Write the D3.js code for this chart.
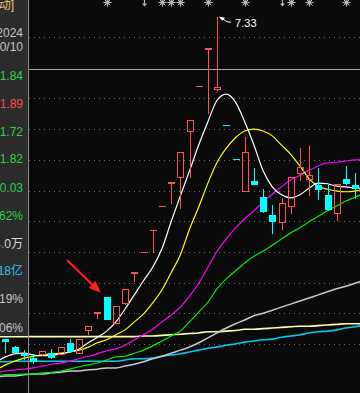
<!DOCTYPE html>
<html><head><meta charset="utf-8">
<script src="https://cdn.jsdelivr.net/npm/d3@7/dist/d3.min.js"></script>
<style>html,body{margin:0;padding:0;background:#0a0a0a;overflow:hidden}svg{display:block}</style>
</head><body><svg id="c" width="360" height="393"></svg>
<script>
// ---- data ----
const days = ["d00","d01","d02","d03","d04","d05","d06","d07","d08","d09","d10","d11","d12","d13","d14","d15","d16","d17","d18","d19","d20","d21","d22","d23","d24","d25","d26","d27","d28","d29","d30","d31","d32","d33","d34","d35","d36","d37","d38","d39","d40"];
const openP  = [1.80,2.08,1.95,1.83,1.77,1.83,1.85,1.84,2.02,1.85,2.23,2.51,2.77,2.34,2.67,3.16,3.50,3.85,4.25,4.63,4.72,5.47,6.20,6.81,6.15,5.57,5.01,4.49,4.65,4.39,4.10,3.99,4.25,4.78,4.69,4.59,4.43,4.13,4.69,4.59];
const highP  = [1.92,2.08,1.97,1.90,1.84,1.89,1.92,1.95,2.08,2.08,2.29,2.52,2.77,2.62,2.90,3.17,3.50,3.86,4.25,4.64,5.13,5.65,6.20,6.82,7.33,5.57,5.01,5.37,4.87,4.52,4.26,4.38,4.72,5.19,5.22,4.87,4.61,4.61,4.90,4.78];
const lowP   = [1.80,1.87,1.87,1.76,1.69,1.82,1.78,1.84,1.89,1.85,2.16,2.42,2.41,2.34,2.65,3.03,3.50,3.50,4.25,4.30,4.21,4.72,6.20,5.76,6.14,5.57,5.01,4.49,4.61,4.15,3.81,3.87,4.13,4.67,4.43,4.36,4.18,4.02,4.61,4.38];
const closeP = [1.92,2.05,1.87,1.82,1.72,1.89,1.79,1.95,1.89,2.08,2.29,2.52,2.41,2.62,2.90,3.17,3.50,3.86,4.25,4.64,5.13,5.65,6.20,6.82,6.19,5.57,5.01,5.13,4.61,4.17,4.00,4.30,4.72,4.88,4.75,4.52,4.20,4.61,4.62,4.54];

const ma5   = [1.71,1.79,1.84,1.85,1.82,1.81,1.82,1.84,1.87,1.92,2.02,2.11,2.21,2.36,2.57,2.80,3.03,3.25,3.55,3.99,4.41,4.82,5.24,5.62,5.97,6.07,5.94,5.62,5.24,4.82,4.56,4.43,4.38,4.43,4.54,4.62,4.61,4.57,4.56,4.54,4.54];
const ma10  = [1.58,1.66,1.72,1.77,1.80,1.82,1.84,1.85,1.87,1.90,1.95,2.02,2.07,2.15,2.23,2.36,2.49,2.67,2.88,3.16,3.45,3.87,4.23,4.62,4.96,5.19,5.36,5.47,5.50,5.47,5.39,5.24,5.09,4.90,4.69,4.57,4.52,4.49,4.48,4.49,4.52];
const ma20  = [1.53,1.56,1.58,1.59,1.61,1.64,1.67,1.69,1.72,1.76,1.80,1.84,1.89,1.92,1.98,2.07,2.15,2.24,2.36,2.47,2.60,2.78,2.99,3.25,3.51,3.71,3.89,4.04,4.17,4.31,4.44,4.56,4.67,4.75,4.83,4.90,4.95,4.96,4.98,5.00,5.00];
const ma30  = [1.48,1.50,1.50,1.51,1.51,1.53,1.54,1.56,1.59,1.63,1.66,1.69,1.74,1.79,1.80,1.85,1.90,1.97,2.05,2.13,2.21,2.36,2.52,2.68,2.90,3.06,3.19,3.32,3.43,3.51,3.61,3.71,3.81,3.89,3.99,4.08,4.17,4.25,4.33,4.39,4.46];
const ma60  = [1.46,1.48,1.48,1.50,1.51,1.51,1.53,1.54,1.56,1.56,1.58,1.59,1.61,1.61,1.64,1.67,1.71,1.76,1.80,1.85,1.90,1.95,2.02,2.10,2.18,2.26,2.33,2.39,2.46,2.50,2.55,2.60,2.65,2.70,2.75,2.80,2.85,2.90,2.94,2.99,3.04];
const ma120 = [1.71,1.71,1.72,1.72,1.72,1.72,1.72,1.72,1.72,1.72,1.72,1.72,1.72,1.72,1.74,1.76,1.76,1.77,1.80,1.82,1.84,1.87,1.90,1.93,1.95,1.98,2.00,2.03,2.05,2.07,2.08,2.11,2.13,2.15,2.18,2.20,2.21,2.23,2.26,2.28,2.31];
const ma250 = [2.12,2.12,2.12,2.12,2.12,2.12,2.12,2.12,2.12,2.12,2.12,2.12,2.12,2.12,2.12,2.12,2.13,2.13,2.14,2.15,2.16,2.17,2.18,2.20,2.20,2.21,2.22,2.24,2.24,2.25,2.26,2.27,2.28,2.29,2.29,2.30,2.31,2.32,2.33,2.33,2.33];

const gridPrices = [7.0,6.0,5.5,5.0,4.5,4.0,3.5,3.0,2.5,2.0];
const refPrice = 6.48;
const peakDay = "d24";
const peakLabel = "7.33";
const starDays = ["d12","d18","d19","d20","d23","d27","d32","d34","d38"];
const arrowDays = ["d16","d31"];
const panelText = ["动]","2024","0/10","1.84","1.89","1.72","1.82","0.03","62%","0万","18亿","19%","06%"];
const signalDay = "d12";

// ---- drawing ----
const W = 360, H = 393;
const svg = d3.select("#c");
const x = d3.scalePoint().domain(days).range([-3.7, 364.3]);
const y = d3.scaleLinear().domain([2, 7]).range([344, 37]);

const RED = "#ff5252", CYAN = "#00ffff";

svg.append("rect").attr("width", W).attr("height", H).attr("fill", "#0a0a0a");

// grid
svg.append("g").selectAll("line").data(gridPrices).join("line")
  .attr("x1", 29).attr("x2", W)
  .attr("y1", d => Math.round(y(d)) + 0.5).attr("y2", d => Math.round(y(d)) + 0.5)
  .attr("stroke", "#6a6a6a").attr("stroke-width", 1).attr("stroke-dasharray", "1,4");
svg.append("line").attr("x1", 29).attr("x2", W)
  .attr("y1", Math.round(y(refPrice)) + 0.5).attr("y2", Math.round(y(refPrice)) + 0.5)
  .attr("stroke", "#a8a8a8").attr("stroke-width", 1);

// moving averages
const maSeries = [
  {v: ma250, c: "#ffffa8", w: 1.6},
  {v: ma120, c: "#00c8f0", w: 1.6},
  {v: ma60,  c: "#c8c8c8", w: 1.5},
  {v: ma30,  c: "#00ee00", w: 1.2},
  {v: ma20,  c: "#ff00ff", w: 1.2},
  {v: ma10,  c: "#ffff00", w: 1.2},
  {v: ma5,   c: "#ffffff", w: 1.2}
];
const line = d3.line().x((d, i) => x(days[i])).y(d => y(d)).curve(d3.curveMonotoneX);
svg.append("g").selectAll("path").data(maSeries).join("path")
  .attr("d", d => line(d.v)).attr("fill", "none")
  .attr("stroke", d => d.c).attr("stroke-width", d => d.w);

// candles
const cg = svg.append("g").attr("shape-rendering", "crispEdges");
openP.forEach((o, i) => {
  const c = closeP[i], h = highP[i], l = lowP[i];
  const prev = i > 0 ? closeP[i - 1] : o;
  const up = c > o || (c === o && c >= prev);
  const col = up ? RED : CYAN;
  const rx = Math.round(x(days[i]));
  const yTop = Math.round(y(Math.max(o, c))), yBot = Math.round(y(Math.min(o, c)));
  const yH = Math.round(y(h)), yL = Math.round(y(l));
  if (yH < yTop) cg.append("rect").attr("x", rx).attr("y", yH).attr("width", 1).attr("height", yTop - yH).attr("fill", col);
  if (yL > yBot) cg.append("rect").attr("x", rx).attr("y", yBot + 1).attr("width", 1).attr("height", yL - yBot).attr("fill", col);
  if (up && yBot - yTop >= 2) {
    cg.append("rect").attr("x", rx - 2.5).attr("y", yTop + 0.5).attr("width", 6).attr("height", yBot - yTop)
      .attr("fill", "none").attr("stroke", col).attr("stroke-width", 1);
  } else {
    cg.append("rect").attr("x", rx - 3).attr("y", yTop).attr("width", 7).attr("height", Math.max(1, yBot - yTop + 1)).attr("fill", col);
  }
});

// left info panel
svg.append("rect").attr("x", 0).attr("y", 0).attr("width", 28).attr("height", 336).attr("fill", "#2b2b2b");
svg.append("line").attr("x1", 28.5).attr("x2", 28.5).attr("y1", 0).attr("y2", H).attr("stroke", "#8a8a8a");
const panelCol = ["#e8c870","#c4c4c4","#c4c4c4","#2ed04a","#ff4d4d","#2ed04a","#2ed04a","#2ed04a","#2ed04a","#d8d8d8","#38c0ec","#c4c4c4","#c4c4c4"];
const panelBase = [9,37,51,80,108,136,163,192,220,248,275,303,332];
const pt = svg.append("g").attr("font-family", "'Liberation Sans','Noto Sans CJK SC',sans-serif").attr("font-size", 12).attr("text-anchor", "end");
panelText.forEach((t, i) => {
  const tx = pt.append("text").attr("x", i === 0 ? 14 : 23).attr("y", panelBase[i]).attr("fill", panelCol[i]);
  if (t === "0万") {
    tx.append("tspan").attr("fill", "#e08a30").text("4.");
    tx.append("tspan").text(t);
  } else tx.text(t);
});

// top markers
const mk = svg.append("g");
starDays.forEach(d => {
  const g = mk.append("g").attr("transform", `translate(${Math.round(x(d)) + 0.5},2.5)`);
  g.append("circle").attr("r", 2.2).attr("fill", "#b8b8b8");
  d3.range(8).forEach(k => {
    const a = k * Math.PI / 4;
    g.append("line").attr("x1", Math.cos(a) * 2).attr("y1", Math.sin(a) * 2)
      .attr("x2", Math.cos(a) * 4.2).attr("y2", Math.sin(a) * 4.2)
      .attr("stroke", "#b8b8b8").attr("stroke-width", 1);
  });
});
arrowDays.forEach(d => {
  const cx = Math.round(x(d)) + 0.5;
  mk.append("line").attr("x1", cx).attr("x2", cx).attr("y1", 0).attr("y2", 4).attr("stroke", "#b8b8b8").attr("stroke-width", 1.2);
  mk.append("path").attr("d", `M${cx - 2.5},3.5L${cx + 2.5},3.5L${cx},6.5Z`).attr("fill", "#b8b8b8");
});

// peak annotation
const px = x(peakDay), py = y(d3.max(highP));
const ann = svg.append("g");
ann.append("path").attr("d", `M${px + 2},${py}L${px + 8},${py + 1}L${px + 5},${py + 4}Z`).attr("fill", "#fff");
ann.append("path").attr("d", `M${px + 6},${py + 2.5}L${px + 10},${py + 5}L${px + 14},${py + 5.5}`).attr("fill", "none").attr("stroke", "#fff").attr("stroke-width", 1);
ann.append("text").attr("x", px + 18).attr("y", py + 10).attr("fill", "#fff")
  .attr("font-family", "'Liberation Sans',sans-serif").attr("font-size", 11).text(peakLabel);

// red signal arrow pointing at the breakout candle
const sx = x(signalDay) - 6, sy = y(highP[days.indexOf(signalDay)]) - 4;
const ux = 0.718, uy = 0.697, L = 47;
const x0 = sx - ux * L, y0 = sy - uy * L;
const bx = sx - ux * 12, by = sy - uy * 12;
svg.append("line").attr("x1", x0).attr("y1", y0).attr("x2", bx + ux * 2).attr("y2", by + uy * 2)
  .attr("stroke", "#ff2020").attr("stroke-width", 2);
svg.append("path").attr("d", `M${sx},${sy}L${bx - uy * 5},${by + ux * 5}L${bx + uy * 5},${by - ux * 5}Z`).attr("fill", "#ff2020");
</script></body></html>
